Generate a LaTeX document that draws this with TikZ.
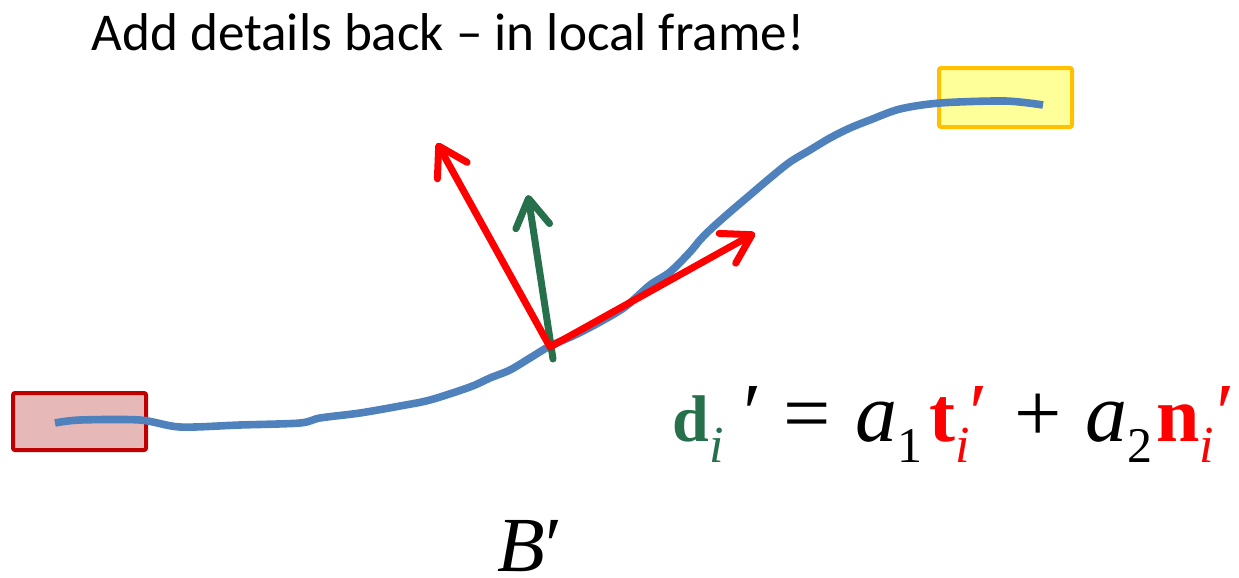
\documentclass[tikz,border=0pt]{standalone}
\usepackage{fontspec}
\setmainfont{Carlito}
\newfontfamily\timesfont{Liberation Serif}
\usetikzlibrary{arrows.meta, positioning, calc}
\definecolor{curveblue}{RGB}{79,129,189}
\definecolor{vecgreen}{RGB}{38,112,76}
\definecolor{vecred}{RGB}{255,0,0}
\definecolor{startedge}{RGB}{192,0,0}
\definecolor{startfill}{RGB}{230,185,184}
\definecolor{endedge}{RGB}{255,192,0}
\definecolor{endfill}{RGB}{255,255,153}

% pieces of the formula
\newcommand{\subidx}[1]{\raisebox{-10.5pt}{\fontsize{26}{26}\selectfont\mdseries\itshape\color{#1}i}}
\newcommand{\subnum}[1]{\raisebox{-10.5pt}{\fontsize{25}{25}\selectfont #1}}
\newcommand{\bvec}[2]{\textcolor{#1}{\fontsize{39}{39}\selectfont\bfseries #2}}

\begin{document}
\begin{tikzpicture}[
    x=0.5pt, y=-0.5pt,
    endbox/.style={draw, line width=2pt, rounded corners=1pt, minimum width=66.5pt, inner sep=0pt},
    curve/.style={curveblue, line width=3.8pt, line join=round},
    vec/.style={line width=3.5pt, line cap=round, line join=round,
        -{Straight Barb[length=14pt, width=17pt, line cap=round, line join=round]}},
]
\useasboundingbox (0,0) rectangle (1239,578);

% Title
\node[anchor=base west, inner sep=0pt, font=\fontsize{26.6}{31}\selectfont] (title) at (91,50)
    {Add details back -- in local frame!};

% Start and end boxes
\node[endbox, draw=startedge, fill=startfill, minimum height=28.5pt] (start) at (79.5,421.5) {};
\node[endbox, draw=endedge, fill=endfill, minimum height=29.5pt] (end) at (1005.5,97.5) {};

% Deformed curve
\draw[curve] plot[smooth, tension=0.5] coordinates {
    (55,423) (80,420) (140,420) (180,427) (240,425) (300,423) (320,418)
    (360,413) (400,406) (430,400) (470,387) (490,378) (510,370) (530,358)
    (550,346) (575,335) (600,322) (625,307) (650,285) (670,272) (690,252)
    (700,240) (712,228) (730,212) (750,195) (770,178) (790,162) (810,150) (830,138)
    (850,128) (870,120) (900,109) (940,103) (1005,101) (1043,105)};

% Local frame at the point
\coordinate (pt) at (550,347);
\coordinate (dtip) at (528,195);
\coordinate (ttip) at (755,233);
\coordinate (ntip) at (437,143);
\draw[vec, vecgreen] ([xshift=1.5pt, yshift=-6pt] pt) -- (dtip);
\draw[vec, vecred] (pt) -- (ttip);
\draw[vec, vecred] (pt) -- (ntip);

% Formula
\node[anchor=base west, inner sep=0pt, font=\timesfont\fontsize{42}{46}\selectfont] (formula) at (672,441)
    {\textcolor{vecgreen}{\fontsize{33}{33}\selectfont\bfseries d}\subidx{vecgreen}\kern10pt′\hspace{11pt}=\hspace{12pt}\textit{a}\subnum{1}\kern3.5pt\bvec{vecred}{t}\subidx{vecred}\textcolor{vecred}{′}\hspace{13pt}+\hspace{12pt}\textit{a}\subnum{2}\kern2pt\bvec{vecred}{n}\subidx{vecred}\kern1pt\textcolor{vecred}{′}};

% Curve name
\node[anchor=base west, inner sep=0pt, font=\timesfont\fontsize{39}{44}\selectfont] (name) at (497,571)
    {\textit{B}′};
\end{tikzpicture}
\end{document}
